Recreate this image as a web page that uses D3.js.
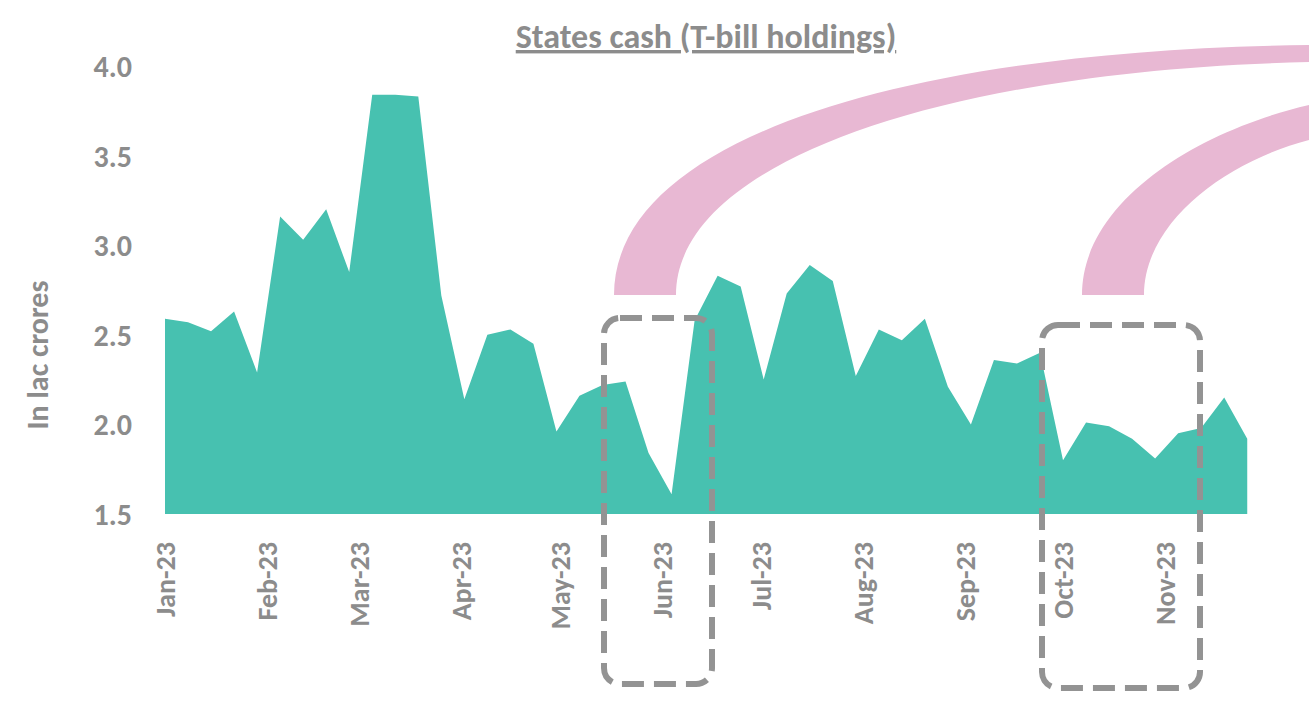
<!DOCTYPE html>
<html><head><meta charset="utf-8">
<script src="https://cdn.jsdelivr.net/npm/d3@7"></script>
<style>body{margin:0;background:#fff}text{font-family:Calibri,Carlito,"Open Sans",sans-serif}</style>
</head><body>
<svg id="chart" width="1309" height="709"></svg>
<script>
// weekly values starting 1 Jan 2023
const startDate = new Date(2023, 0, 1);
const values = [2.59, 2.57, 2.52, 2.63, 2.29, 3.16, 3.03, 3.20, 2.85, 3.84, 3.84, 3.83,
  2.72, 2.14, 2.50, 2.53, 2.45, 1.96, 2.16, 2.22, 2.24, 1.84, 1.61, 2.58,
  2.83, 2.77, 2.25, 2.73, 2.89, 2.80, 2.27, 2.53, 2.47, 2.59, 2.21, 2.00,
  2.36, 2.34, 2.40, 1.80, 2.01, 1.99, 1.92, 1.81, 1.95, 1.98, 2.15, 1.92];
const yTicks = [1.5, 2.0, 2.5, 3.0, 3.5, 4.0];
const monthTicks = d3.range(0, 11).map(m => new Date(2023, m, 1));

const grey = "#8c8c8c";
const svg = d3.select("#chart");
const data = values.map((v, i) => ({ date: d3.timeDay.offset(startDate, i * 7), v }));

const x = d3.scaleTime().domain([new Date(2023, 0, 1), new Date(2023, 10, 1)]).range([165, 1165]);
const y = d3.scaleLinear().domain([1.5, 4.0]).range([514, 66]);

// 面积
svg.append("path").datum(data)
  .attr("fill", "#47c1b0")
  .attr("d", d3.area().x(d => x(d.date)).y0(y(1.5)).y1(d => y(d.v)));

// y轴
const yAxis = svg.append("g").attr("transform", "translate(135,0)")
  .call(d3.axisLeft(y).tickValues(yTicks).tickFormat(d3.format(".1f")).tickSize(0));
yAxis.select(".domain").remove();
yAxis.selectAll("text").attr("fill", grey).style("font-size", "30px").style("font-weight", "bold").attr("dy", "0.35em");

// x轴
const xAxis = svg.append("g").attr("transform", `translate(0,${y(1.5) + 28})`)
  .call(d3.axisBottom(x).tickValues(monthTicks).tickFormat(d3.timeFormat("%b-%y")).tickSize(0));
xAxis.select(".domain").remove();
xAxis.selectAll("text").attr("fill", grey).style("font-size", "28px").style("font-weight", "bold")
  .attr("transform", "rotate(-90)").attr("text-anchor", "end").attr("dx", 0).attr("dy", "0.35em").attr("y", 0);

svg.append("text").attr("transform", "translate(48,355) rotate(-90)")
  .attr("text-anchor", "middle").attr("fill", grey).style("font-size", "30px").style("font-weight", "bold")
  .text("In lac crores");

const title = svg.append("text").attr("x", 706).attr("y", 48).attr("text-anchor", "middle")
  .attr("fill", grey).style("font-size", "34px").style("font-weight", "bold")
  .attr("text-decoration", "underline").text("States cash (T-bill holdings)");

// 粉色引导带
const pink = "#e8b8d3";
svg.append("path").attr("fill", pink)
  .attr("d", "M614,295 C614,140 900,50 1309,45 L1309,62 C950,70 676,160 676,295 Z");
svg.append("path").attr("fill", pink)
  .attr("d", "M1082,295 C1082,200 1200,130 1309,105 L1309,140 C1230,160 1144,220 1144,295 Z");

// 虚线框
[[604, 318, 108, 366], [1042, 325, 158, 363]].forEach(([bx, by, bw, bh]) => {
  svg.append("rect").attr("x", bx).attr("y", by).attr("width", bw).attr("height", bh)
    .attr("rx", 16).attr("fill", "none").attr("stroke", "#939393")
    .attr("stroke-width", 6).attr("stroke-dasharray", "22,10");
});
</script>
</body></html>
